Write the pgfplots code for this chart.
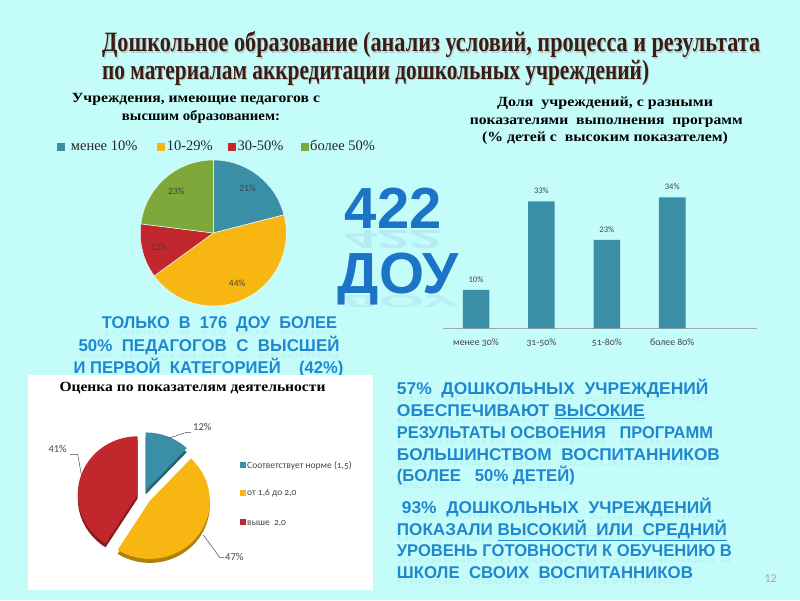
\documentclass[border=0pt]{standalone}
\usepackage{fontspec}
\setmainfont{Liberation Serif}
\newfontfamily\sansfont{Liberation Sans}
\newfontfamily\calfont[Numbers=OldStyle]{Carlito}
\newfontfamily\callin{Carlito}
\usepackage{graphicx}
\usepackage{pgfplots}
\pgfplotsset{compat=1.18}
\usetikzlibrary{calc}

\definecolor{bg}{HTML}{C4FCF9}
\definecolor{cblue}{HTML}{3A8FA6}
\definecolor{corange}{HTML}{F8B612}
\definecolor{cred}{HTML}{C1272D}
\definecolor{cgreen}{HTML}{7FA83A}
\definecolor{titlec}{HTML}{3A1C14}
\definecolor{bigblue}{HTML}{1B74C5}
\definecolor{txtblue}{HTML}{1F87D0}
\definecolor{lab}{HTML}{444444}

\newcommand{\blfont}{\sansfont\bfseries\fontsize{17}{19}\selectfont}
% blue caption line with a faint reflection: x, baseline, width, text
\newcommand{\bl}[4]{%
  \node[anchor=base west, inner sep=0, text=txtblue!60!white, opacity=.13, yscale=-.4] at (#1,#2-1.5) {\resizebox{#3pt}{\height}{\blfont #4}};
  \node[anchor=base west, inner sep=0, text=txtblue] at (#1,#2) {\resizebox{#3pt}{\height}{\blfont #4}};}
\newcommand{\hd}[1]{\bfseries\fontsize{14}{16}\selectfont #1}

\begin{document}
\begin{tikzpicture}[x=1pt,y=1pt]
\useasboundingbox (0,0) rectangle (800,600);
\fill[bg] (0,0) rectangle (800,600);

% title
\foreach \yy/\w/\t in {548.1/658/{Дошкольное образование (анализ условий, процесса и результата},
                       520.8/547/{по материалам аккредитации дошкольных учреждений)}}{
  \node[anchor=base west, inner sep=0, text=black!30, opacity=.6] at (103.2,\yy-1.2) {\resizebox{\w pt}{\height}{\bfseries\fontsize{28}{30}\selectfont \t}};
  \node[anchor=base west, inner sep=0, text=titlec] at (102,\yy) {\resizebox{\w pt}{\height}{\bfseries\fontsize{28}{30}\selectfont \t}};
}

% pie 1: teachers with higher education
\node[anchor=base, inner sep=0] at (196,497) {\resizebox{248pt}{\height}{\hd{Учреждения, имеющие педагогов с}}};
\node[anchor=base, inner sep=0] at (201,479.3) {\resizebox{158pt}{\height}{\hd{высшим образованием:}}};
\foreach \sx/\tx/\c/\t in {56.7/70.7/cblue/{менее 10\%},157.3/166.7/corange/{10-29\%},228.3/237.3/cred/{30-50\%},300.7/310/cgreen/{более 50\%}}{
  \fill[\c] (\sx,449) rectangle ++(8,7.7);
  \node[anchor=base west, inner sep=0, text=black!85, font=\fontsize{14.5}{16}\selectfont] at (\tx,449) {\t};
}
\gdef\ang{90}
\foreach \v/\c in {21/cblue,44/corange,12/cred,23/cgreen}{
  \pgfmathsetmacro\e{\ang-3.6*\v}
  \pgfmathsetmacro\m{\ang-1.8*\v}
  \fill[\c, draw=white!60!bg, line width=.5pt] (213.3,367) -- +(\ang:73pt) arc[start angle=\ang, end angle=\e, radius=73pt] -- cycle;
  \node[font=\callin\fontsize{9.5}{11}\selectfont, text=black!75] at ($(213.3,367)+(\m:56pt)$) {\v\%};
  \xdef\ang{\e}
}

% big number
\node[anchor=base, inner sep=0, text=bigblue!50!white, opacity=.25, yscale=-.45] at (393.3,369.5) {\sansfont\bfseries\fontsize{58}{60}\selectfont 422};
\node[anchor=base, inner sep=0, text=bigblue] at (393.3,371.7) {\sansfont\bfseries\fontsize{58}{60}\selectfont 422};
\node[anchor=base, inner sep=0, text=bigblue!50!white, opacity=.2, yscale=-.3] at (398.3,304.5) {\sansfont\bfseries\fontsize{58}{60}\selectfont ДОУ};
\node[anchor=base, inner sep=0, text=bigblue] at (398.3,306.7) {\sansfont\bfseries\fontsize{58}{60}\selectfont ДОУ};

% left caption
\bl{101.7}{271}{235}{ТОЛЬКО\ \ В\ \ 176\ \ ДОУ\ \ БОЛЕЕ}
\bl{78.3}{248.3}{261}{50\%\ \ ПЕДАГОГОВ\ \ С\ \ ВЫСШЕЙ}
\bl{73.3}{226.7}{270}{И ПЕРВОЙ\ \ КАТЕГОРИЕЙ\ \ \ \ (42\%)}

% bar chart title
\node[anchor=base, inner sep=0] at (605,493.3) {\resizebox{216pt}{\height}{\hd{Доля\ \ учреждений, с разными}}};
\node[anchor=base, inner sep=0] at (606.3,475.7) {\resizebox{273pt}{\height}{\hd{показателями\ \ выполнения\ \ программ}}};
\node[anchor=base, inner sep=0] at (605,458.3) {\resizebox{246pt}{\height}{\hd{(\% детей с\ \ высоким показателем)}}};

\begin{axis}[
  at={(443pt,271.7pt)}, anchor=south west, scale only axis,
  width=314pt, height=138.6pt,
  ymin=0, ymax=36, xmin=-0.505, xmax=4.296,
  ybar, bar width=26.5pt,
  axis y line=none, axis x line*=bottom,
  x axis line style={draw=black!35, line width=.6pt},
  xtick={0,1,2,3},
  xticklabels={менее 30\%,31-50\%,51-80\%,более 80\%},
  major tick length=0pt,
  xticklabel style={anchor=base, yshift=-16.7pt, font=\calfont\fontsize{9.8}{11}\selectfont, text=lab},
  /pgf/number format/assume math mode=true,
  nodes near coords={\pgfmathprintnumber{\pgfplotspointmeta}\%},
  nodes near coords style={anchor=base, yshift=7.5pt, font=\callin\fontsize{8.5}{10}\selectfont, text=lab},
  clip=false,
]
\addplot[fill=cblue, draw=none] coordinates {(0,10) (1,33) (2,23) (3,34)};
\end{axis}

% pie 2 panel
\begin{scope}
\clip (28,10) rectangle (373,225);
\fill[white] (28,10) rectangle (373,225);
\node[anchor=base west, inner sep=0] at (59.3,208.3) {\resizebox{266pt}{\height}{\hd{Оценка по показателям деятельности}}};
\gdef\ang{90}
\foreach \v/\c/\d in {12/cblue/6,47/corange/8,41/cred/6}{
  \pgfmathsetmacro\e{\ang-3.6*\v}
  \pgfmathsetmacro\m{\ang-1.8*\v}
  \fill[\c!70!black, shift={(\m:\d pt)}] (143.5,100) -- +(\ang:60pt and 58pt) arc[start angle=\ang, end angle=\e, x radius=60pt, y radius=58pt] -- cycle;
  \xdef\ang{\e}
}
\gdef\ang{90}
\foreach \v/\c/\d in {12/cblue/6,47/corange/8,41/cred/6}{
  \pgfmathsetmacro\e{\ang-3.6*\v}
  \pgfmathsetmacro\m{\ang-1.8*\v}
  \fill[\c, shift={(\m:\d pt)}] (143.5,104) -- +(\ang:60pt and 58pt) arc[start angle=\ang, end angle=\e, x radius=60pt, y radius=58pt] -- cycle;
  \xdef\ang{\e}
}
\draw[black!70, line width=.5pt] (168.3,161.7) -- (186.7,167.7) -- (191,167.7);
\draw[black!70, line width=.5pt] (81.7,123.3) -- (77.7,145.7) -- (70,145.7);
\draw[black!70, line width=.5pt] (203.3,65) -- (220,42.3) -- (224,42.3);
\node[anchor=base west, inner sep=0, text=lab, font=\callin\fontsize{10.5}{12}\selectfont] at (193,170) {12\%};
\node[anchor=base west, inner sep=0, text=lab, font=\callin\fontsize{10.5}{12}\selectfont] at (48.3,147.7) {41\%};
\node[anchor=base west, inner sep=0, text=lab, font=\callin\fontsize{10.5}{12}\selectfont] at (225,40) {47\%};
\foreach \yy/\c/\t in {131.7/cblue/{Соответствует норме (1,5)},104.3/corange/{от 1,6 до 2,0},75/cred/{выше\ \ 2,0}}{
  \fill[\c] (239.5,\yy) rectangle ++(6,6);
  \node[anchor=base west, inner sep=0, text=lab, font=\calfont\fontsize{9.5}{11}\selectfont] at (247,\yy) {\t};
}
\end{scope}

% right captions
\bl{396.7}{205}{311.6}{57\%\ \ ДОШКОЛЬНЫХ\ \ УЧРЕЖДЕНИЙ}
\bl{396.7}{183.3}{248}{ОБЕСПЕЧИВАЮТ \underline{ВЫСОКИЕ}}
\bl{396.7}{161.7}{316}{РЕЗУЛЬТАТЫ ОСВОЕНИЯ\ \ \ ПРОГРАММ}
\bl{396.7}{140}{323}{БОЛЬШИНСТВОМ\ \ ВОСПИТАННИКОВ}
\bl{396.7}{118.3}{178}{(БОЛЕЕ\ \ \ 50\% ДЕТЕЙ)}
\bl{401.7}{86.7}{310}{93\%\ \ ДОШКОЛЬНЫХ\ \ УЧРЕЖДЕНИЙ}
\bl{396.7}{65}{330}{ПОКАЗАЛИ\ \underline{ВЫСОКИЙ\ \ ИЛИ\ \ СРЕДНИЙ}}
\bl{396.7}{43.3}{335}{УРОВЕНЬ ГОТОВНОСТИ К ОБУЧЕНИЮ В}
\bl{396.7}{21.7}{296}{ШКОЛЕ\ \ СВОИХ\ \ ВОСПИТАННИКОВ}

\node[anchor=base east, inner sep=0, text=black!35, font=\callin\fontsize{12}{14}\selectfont] at (777,18) {12};
\end{tikzpicture}
\end{document}
